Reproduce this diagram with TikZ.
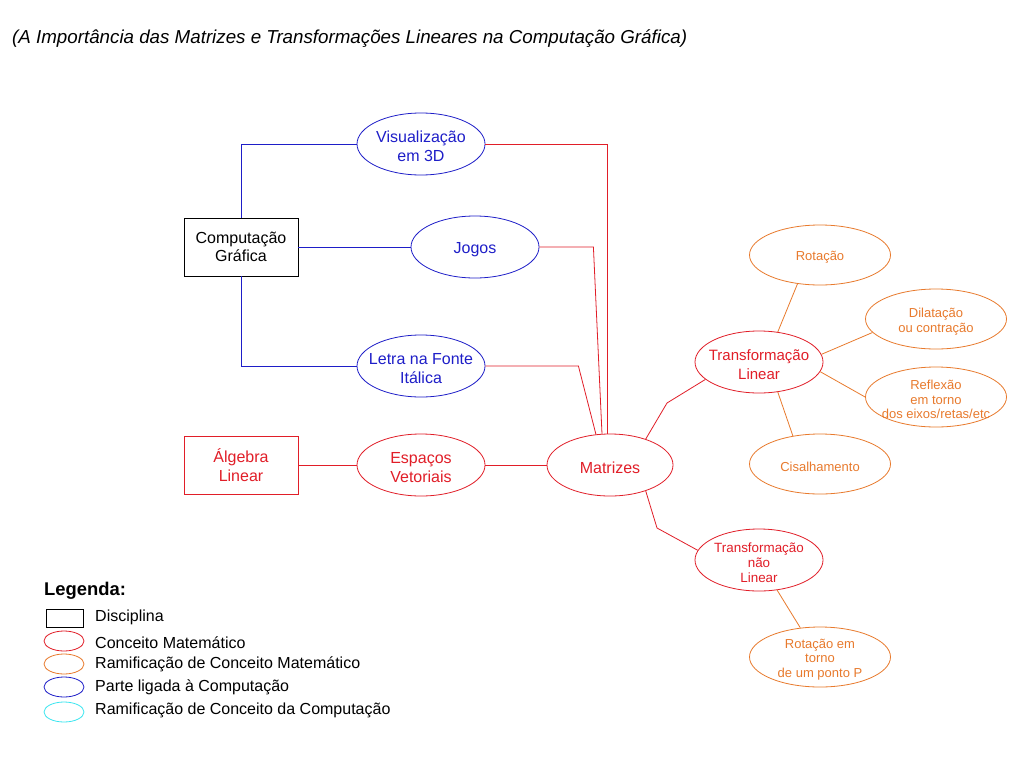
\documentclass[tikz,border=0pt]{standalone}
\usepackage{fontspec}
\setmainfont{Liberation Sans}
\usetikzlibrary{shapes.geometric,calc}
\definecolor{cblue}{RGB}{30,30,200}
\definecolor{cred}{RGB}{225,30,40}
\definecolor{corange}{RGB}{232,122,45}
\definecolor{ccyan}{RGB}{60,230,240}
\tikzset{
  fs16/.style={font=\fontsize{16}{18.5}\selectfont},
  fs13/.style={font=\fontsize{13}{14.5}\selectfont},
  txt/.style={text=#1, align=center, inner sep=0pt, yshift=-2.5pt},
  bigell/.style={ellipse, line width=0.8pt, minimum width=128pt, minimum height=62pt, inner sep=0pt},
  smallell/.style={ellipse, line width=0.8pt, minimum width=141pt, minimum height=60pt, inner sep=0pt, draw=corange},
  discbox/.style={rectangle, line width=0.8pt, minimum width=114pt, minimum height=58pt, inner sep=0pt, align=center, fs16},
  bl/.style={draw=cblue, line width=0.8pt},
  rd/.style={draw=cred, line width=0.8pt},
  og/.style={draw=corange, line width=0.8pt},
  legell/.style={ellipse, line width=0.8pt, minimum width=40pt, minimum height=20pt, inner sep=0pt},
  legtxt/.style={anchor=west, fs16, inner sep=0pt}
}
\begin{document}
\begin{tikzpicture}[x=1pt,y=-1pt]
\fill[white] (0,0) rectangle (1024,768);
\useasboundingbox (0,0) rectangle (1024,768);

\node[anchor=west, inner sep=0pt, font=\itshape\fontsize{18.75}{20}\selectfont] (title) at (12,39) {(A Importância das Matrizes e Transformações Lineares na Computação Gráfica)};

% left side
\node[discbox, draw=black] (comp) at (241,247) {Computação\\Gráfica};
\node[discbox, draw=cred, text=cred] (alg) at (241,465) {Álgebra\\Linear};

\node[bigell, draw=cblue, label={[txt=cblue, fs16]center:Visualização\\em 3D}] (vis) at (421,144) {};
\node[bigell, draw=cblue, label={[txt=cblue, fs16]center:Jogos}] (jog) at (475,247) {};
\node[bigell, draw=cblue, label={[txt=cblue, fs16]center:Letra na Fonte\\Itálica}] (let) at (421,366) {};
\node[bigell, draw=cred, label={[txt=cred, fs16]center:Espaços\\Vetoriais}] (esp) at (421,465) {};
\node[bigell, draw=cred, minimum width=126pt, label={[txt=cred, fs16]center:Matrizes}] (mat) at (610,465) {};

% right side
\node[bigell, draw=cred, label={[txt=cred, font=\fontsize{15}{18.5}\selectfont]center:Transformação\\Linear}] (tl) at (759,362) {};
\node[bigell, draw=cred, label={[txt=cred, font=\fontsize{13.4}{14.8}\selectfont]center:Transformação\\não\\Linear}] (tnl) at (759,560) {};

\node[smallell, label={[txt=corange, fs13]center:Rotação}] (rot) at (820,255) {};
\node[smallell, label={[txt=corange, fs13]center:Dilatação\\ou contração}] (dil) at (936,319) {};
\node[smallell, label={[txt=corange, fs13]center:Reflexão\\em torno\\dos eixos/retas/etc}] (ref) at (936,397) {};
\node[smallell, label={[txt=corange, fs13]center:Cisalhamento}] (cis) at (820,464) {};
\node[smallell, label={[txt=corange, fs13]center:Rotação em\\torno\\de um ponto P}] (rte) at (820,657) {};

% blue connectors
\draw[bl] (comp.north) |- (vis.west);
\draw[bl] (comp.east) -- (jog.west);
\draw[bl] (comp.south) |- (let.west);

% red connectors
\coordinate (m1) at ($(mat.north)+(-3,0)$);
\coordinate (m2) at ($(mat.north)+(-8,0.5)$);
\coordinate (m3) at ($(mat.north)+(-14,1)$);
\draw[rd] (vis.east) -| (m1);
\draw[rd] (jog.east) -- ++(54,0) -- (m2);
\draw[rd] (let.east) -- ++(93,0) -- (m3);
\draw[rd] (alg.east) -- (esp.west);
\draw[rd] (esp.east) -- (mat.west);
\draw[rd] (mat.36) -- (667,403) -- (tl.198);
\draw[rd] (mat.-36) -- (657,528) -- (tnl.171);

% orange connectors
\draw[og] (rot.232) -- (tl.58);
\draw[og] (dil.192) -- (tl.7);
\draw[og] (ref.west) -- (tl.-9);
\draw[og] (cis.134) -- (tl.-58);
\draw[og] (rte.124) -- (tnl.-59);

% legend
\node[anchor=west, inner sep=0pt, font=\bfseries\fontsize{18.4}{20}\selectfont] (legtitle) at (44,591) {Legenda:};
\node[rectangle, draw=black, line width=0.8pt, minimum width=37pt, minimum height=18pt, inner sep=0pt] (lg1) at (64.5,618) {};
\node[legell, draw=cred] (lg2) at (64,641) {};
\node[legell, draw=corange] (lg3) at (64,664) {};
\node[legell, draw=cblue] (lg4) at (64,687) {};
\node[legell, draw=ccyan] (lg5) at (64,712) {};
\node[legtxt] (lt1) at (95,617.5) {Disciplina};
\node[legtxt] (lt2) at (95,642.5) {Conceito Matemático};
\node[legtxt] (lt3) at (95,664.5) {Ramificação de Conceito Matemático};
\node[legtxt] (lt4) at (95,687.5) {Parte ligada à Computação};
\node[legtxt] (lt5) at (95,710.5) {Ramificação de Conceito da Computação};
\end{tikzpicture}
\end{document}
